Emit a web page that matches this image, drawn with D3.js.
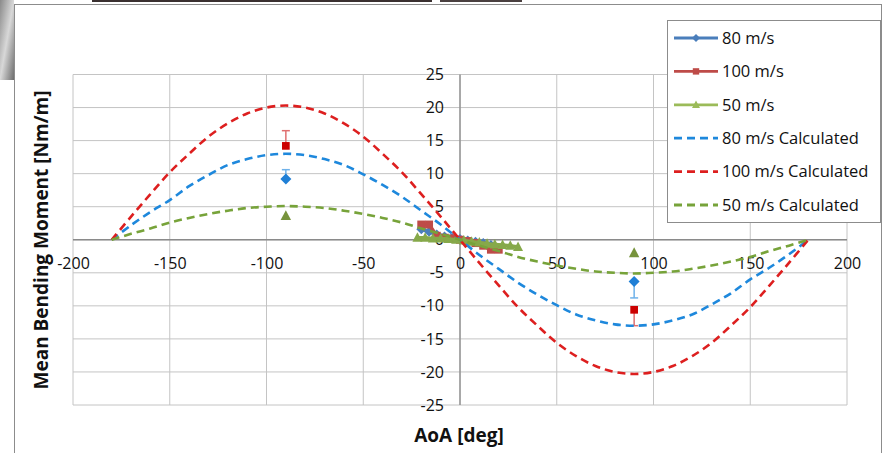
<!DOCTYPE html>
<html>
<head>
<meta charset="utf-8">
<script src="https://cdn.jsdelivr.net/npm/d3@7"></script>
<style>
body { margin: 0; background: #fff; }
svg { display: block; font-family: "Open Sans", sans-serif; }
</style>
</head>
<body>
<script>
// measured data, clustered round 0 deg
const aoa80 = [-20, -16, -12, -8, -4, 0, 4, 8, 12, 16];
const m80 = [1.6, 1.2, 0.8, 0.5, 0.3, 0.1, -0.1, -0.3, -0.5, -0.8];
const aoa100 = [-20, -16, -12, -8, -4, 0, 4, 8, 12, 16, 20];
const m100 = [2.3, 2.3, 0.6, 0.3, 0.2, 0.0, -0.2, -0.5, -0.9, -1.5, -1.5];
const aoa50 = [-22, -18, -14, -10, -6, -2, 2, 6, 10, 14, 18, 22, 26, 30];
const m50 = [0.3, 0.3, 0.2, 0.2, 0.1, 0.0, -0.1, -0.3, -0.4, -0.6, -0.7, -0.8, -0.9, -1.1];

// single points at +/-90 deg with error bar tips
const aoaSide = [-90, 90];
const side80 = [9.2, -6.3];
const err80 = [10.6, -8.8];
const side100 = [14.2, -10.6];
const err100 = [16.5, -13.0];
const side50 = [3.6, -2.0];

// calculated curves
const aoaCalc = [-180, -170, -160, -150, -140, -130, -120, -110, -100, -90, -80, -70, -60, -50, -40, -30, -20, -10, 0,
  10, 20, 30, 40, 50, 60, 70, 80, 90, 100, 110, 120, 130, 140, 150, 160, 170, 180];
const calc80 = [0, 2.2, 4.2, 6.0, 8.1, 9.8, 11.3, 12.2, 12.8, 13.0, 12.8, 12.2, 11.3, 9.9, 8.3, 6.5, 4.4, 2.3, 0,
  -2.3, -4.4, -6.5, -8.3, -9.9, -11.3, -12.2, -12.8, -13.0, -12.8, -12.2, -11.3, -9.8, -8.1, -6.0, -4.2, -2.2, 0];
const calc100 = [0, 3.5, 6.9, 10.2, 13.0, 15.6, 17.6, 19.1, 20.0, 20.3, 20.0, 19.1, 17.6, 15.6, 13.0, 10.2, 6.9, 3.5, 0,
  -3.5, -6.9, -10.2, -13.0, -15.6, -17.6, -19.1, -20.0, -20.3, -20.0, -19.1, -17.6, -15.6, -13.0, -10.2, -6.9, -3.5, 0];
const calc50 = [0, 0.9, 1.7, 2.6, 3.3, 3.9, 4.4, 4.8, 5.0, 5.1, 5.0, 4.8, 4.4, 3.9, 3.3, 2.6, 1.7, 0.9, 0,
  -0.9, -1.7, -2.6, -3.3, -3.9, -4.4, -4.8, -5.0, -5.1, -5.0, -4.8, -4.4, -3.9, -3.3, -2.6, -1.7, -0.9, 0];

const xTicks = [-200, -150, -100, -50, 0, 50, 100, 150, 200];
const yTicks = [-25, -20, -15, -10, -5, 0, 5, 10, 15, 20, 25];

const legendNames = ["80 m/s", "100 m/s", "50 m/s", "80 m/s Calculated", "100 m/s Calculated", "50 m/s Calculated"];

const svg = d3.select("body").append("svg").attr("width", 893).attr("height", 453);

// bits of the screenshot around the chart
const grad = svg.append("defs").append("linearGradient").attr("id", "photo")
  .attr("x1", 0).attr("y1", 0).attr("x2", 1).attr("y2", 1);
grad.append("stop").attr("offset", "0%").attr("stop-color", "#8a8a8a");
grad.append("stop").attr("offset", "50%").attr("stop-color", "#d8d8d8");
grad.append("stop").attr("offset", "100%").attr("stop-color", "#6c6c6c");
svg.append("rect").attr("x", 0).attr("y", 0).attr("width", 14).attr("height", 80).attr("fill", "url(#photo)");
svg.append("rect").attr("x", 92).attr("y", 0).attr("width", 340).attr("height", 2).attr("fill", "#3a3030");
svg.append("rect").attr("x", 440).attr("y", 0).attr("width", 82).attr("height", 2).attr("fill", "#4a4040");

// chart frame
svg.append("rect").attr("x", 14.5).attr("y", 4.5).attr("width", 867).attr("height", 460)
  .attr("fill", "#fff").attr("stroke", "#8c8c8c");

const x = d3.scaleLinear().domain([-200, 200]).range([73, 847]);
const y = d3.scaleLinear().domain([-25, 25]).range([405, 74.5]);

// grid
svg.append("g").selectAll("line").data(xTicks).enter().append("line")
  .attr("x1", d => x(d)).attr("x2", d => x(d))
  .attr("y1", y(25)).attr("y2", y(-25))
  .attr("stroke", "#c4c4c4").attr("stroke-width", 1);
svg.append("g").selectAll("line").data(yTicks).enter().append("line")
  .attr("x1", x(-200)).attr("x2", x(200))
  .attr("y1", d => y(d)).attr("y2", d => y(d))
  .attr("stroke", "#c4c4c4").attr("stroke-width", 1);

// axis lines through zero
svg.append("line").attr("x1", x(-200)).attr("x2", x(200)).attr("y1", y(0)).attr("y2", y(0))
  .attr("stroke", "#8a8a8a").attr("stroke-width", 1.3);
svg.append("line").attr("x1", x(0)).attr("x2", x(0)).attr("y1", y(25)).attr("y2", y(-25))
  .attr("stroke", "#8a8a8a").attr("stroke-width", 1.3);

// tick labels
const xAxis = svg.append("g").attr("transform", `translate(0,${y(0)})`)
  .call(d3.axisBottom(x).tickValues(xTicks).tickSize(0).tickPadding(18).tickFormat(d => String(d)));
xAxis.select(".domain").remove();
xAxis.attr("font-family", null).attr("font-size", 16);
xAxis.selectAll("text").attr("fill", "#111");

const yAxis = svg.append("g").attr("transform", `translate(${x(0)},0)`)
  .call(d3.axisLeft(y).tickValues(yTicks).tickSize(0).tickPadding(16).tickFormat(d => String(d)));
yAxis.select(".domain").remove();
yAxis.attr("font-family", null).attr("font-size", 16);
yAxis.selectAll("text").attr("fill", "#111");

// axis titles
svg.append("text").attr("x", 459).attr("y", 442).attr("text-anchor", "middle")
  .attr("font-size", 19).attr("font-weight", "bold").attr("fill", "#111").text("AoA [deg]");
svg.append("text").attr("transform", "translate(48,240) rotate(-90)").attr("text-anchor", "middle")
  .attr("font-size", 19).attr("font-weight", "bold").attr("fill", "#111").text("Mean Bending Moment [Nm/m]");

// marker shapes
function marker(g, shape, cx, cy, s, color) {
  if (shape == "diamond") {
    g.append("path").attr("d", `M${cx},${cy - s}L${cx + s},${cy}L${cx},${cy + s}L${cx - s},${cy}Z`).attr("fill", color);
  } else if (shape == "square") {
    g.append("rect").attr("x", cx - s * 0.8).attr("y", cy - s * 0.8).attr("width", s * 1.6).attr("height", s * 1.6).attr("fill", color);
  } else {
    g.append("path").attr("d", `M${cx},${cy - s * 1.1}L${cx + s},${cy + s * 0.8}L${cx - s},${cy + s * 0.8}Z`).attr("fill", color);
  }
}

const line = d3.line().x(d => x(d[0])).y(d => y(d[1]));

const measured = [
  { a: aoa80, m: m80, color: "#4a7ebb", shape: "diamond" },
  { a: aoa100, m: m100, color: "#be4b48", shape: "square" },
  { a: aoa50, m: m50, color: "#86a94a", shape: "triangle" }
];
measured.forEach(function(s) {
  let pts = s.a.map((a, i) => [a, s.m[i]]);
  let g = svg.append("g");
  g.append("path").attr("d", line(pts)).attr("fill", "none").attr("stroke", s.color).attr("stroke-width", 3.5);
  pts.forEach(p => marker(g, s.shape, x(p[0]), y(p[1]), 5, s.color));
});

// points at +/-90 with error bars
const sides = [
  { v: side80, e: err80, color: "#1f7fd6", ecolor: "#6fb2ea", shape: "diamond", s: 5.5 },
  { v: side100, e: err100, color: "#cc0000", ecolor: "#e07070", shape: "square", s: 4.8 },
  { v: side50, e: null, color: "#77933c", ecolor: null, shape: "triangle", s: 5.2 }
];
sides.forEach(function(s) {
  let g = svg.append("g");
  aoaSide.forEach(function(a, i) {
    if (s.e) {
      g.append("line").attr("x1", x(a)).attr("x2", x(a)).attr("y1", y(s.v[i])).attr("y2", y(s.e[i]))
        .attr("stroke", s.ecolor).attr("stroke-width", 1.5);
      g.append("line").attr("x1", x(a) - 4).attr("x2", x(a) + 4).attr("y1", y(s.e[i])).attr("y2", y(s.e[i]))
        .attr("stroke", s.ecolor).attr("stroke-width", 1.5);
    }
    marker(g, s.shape, x(a), y(s.v[i]), s.s, s.color);
  });
});

// calculated curves
const calcLine = d3.line().x(d => x(d[0])).y(d => y(d[1])).curve(d3.curveCatmullRom);
const calcs = [
  { m: calc80, color: "#1e88dc" },
  { m: calc100, color: "#dd1f1f" },
  { m: calc50, color: "#77a33a" }
];
calcs.forEach(function(c) {
  svg.append("path").attr("d", calcLine(aoaCalc.map((a, i) => [a, c.m[i]])))
    .attr("fill", "none").attr("stroke", c.color).attr("stroke-width", 2.6)
    .attr("stroke-dasharray", "8,5");
});

// legend
const lg = svg.append("g");
lg.append("rect").attr("x", 667.5).attr("y", 20.5).attr("width", 213).attr("height", 202)
  .attr("fill", "#fff").attr("stroke", "#8c8c8c");
const legendStyle = [
  { color: "#4a7ebb", shape: "diamond", dash: null },
  { color: "#be4b48", shape: "square", dash: null },
  { color: "#9bbb59", shape: "triangle", dash: null },
  { color: "#1e88dc", shape: null, dash: "8,5" },
  { color: "#dd1f1f", shape: null, dash: "8,5" },
  { color: "#77a33a", shape: null, dash: "8,5" }
];
legendNames.forEach(function(name, i) {
  let ly = 38 + i * 33.4;
  let st = legendStyle[i];
  let l = lg.append("line").attr("x1", 674).attr("x2", 718).attr("y1", ly).attr("y2", ly)
    .attr("stroke", st.color).attr("stroke-width", 2.8);
  if (st.dash) l.attr("stroke-dasharray", st.dash);
  if (st.shape) marker(lg, st.shape, 696, ly, 4, st.color);
  lg.append("text").attr("x", 722).attr("y", ly).attr("dy", "0.35em")
    .attr("font-size", 16.5).attr("fill", "#111").text(name);
});
</script>
</body>
</html>
